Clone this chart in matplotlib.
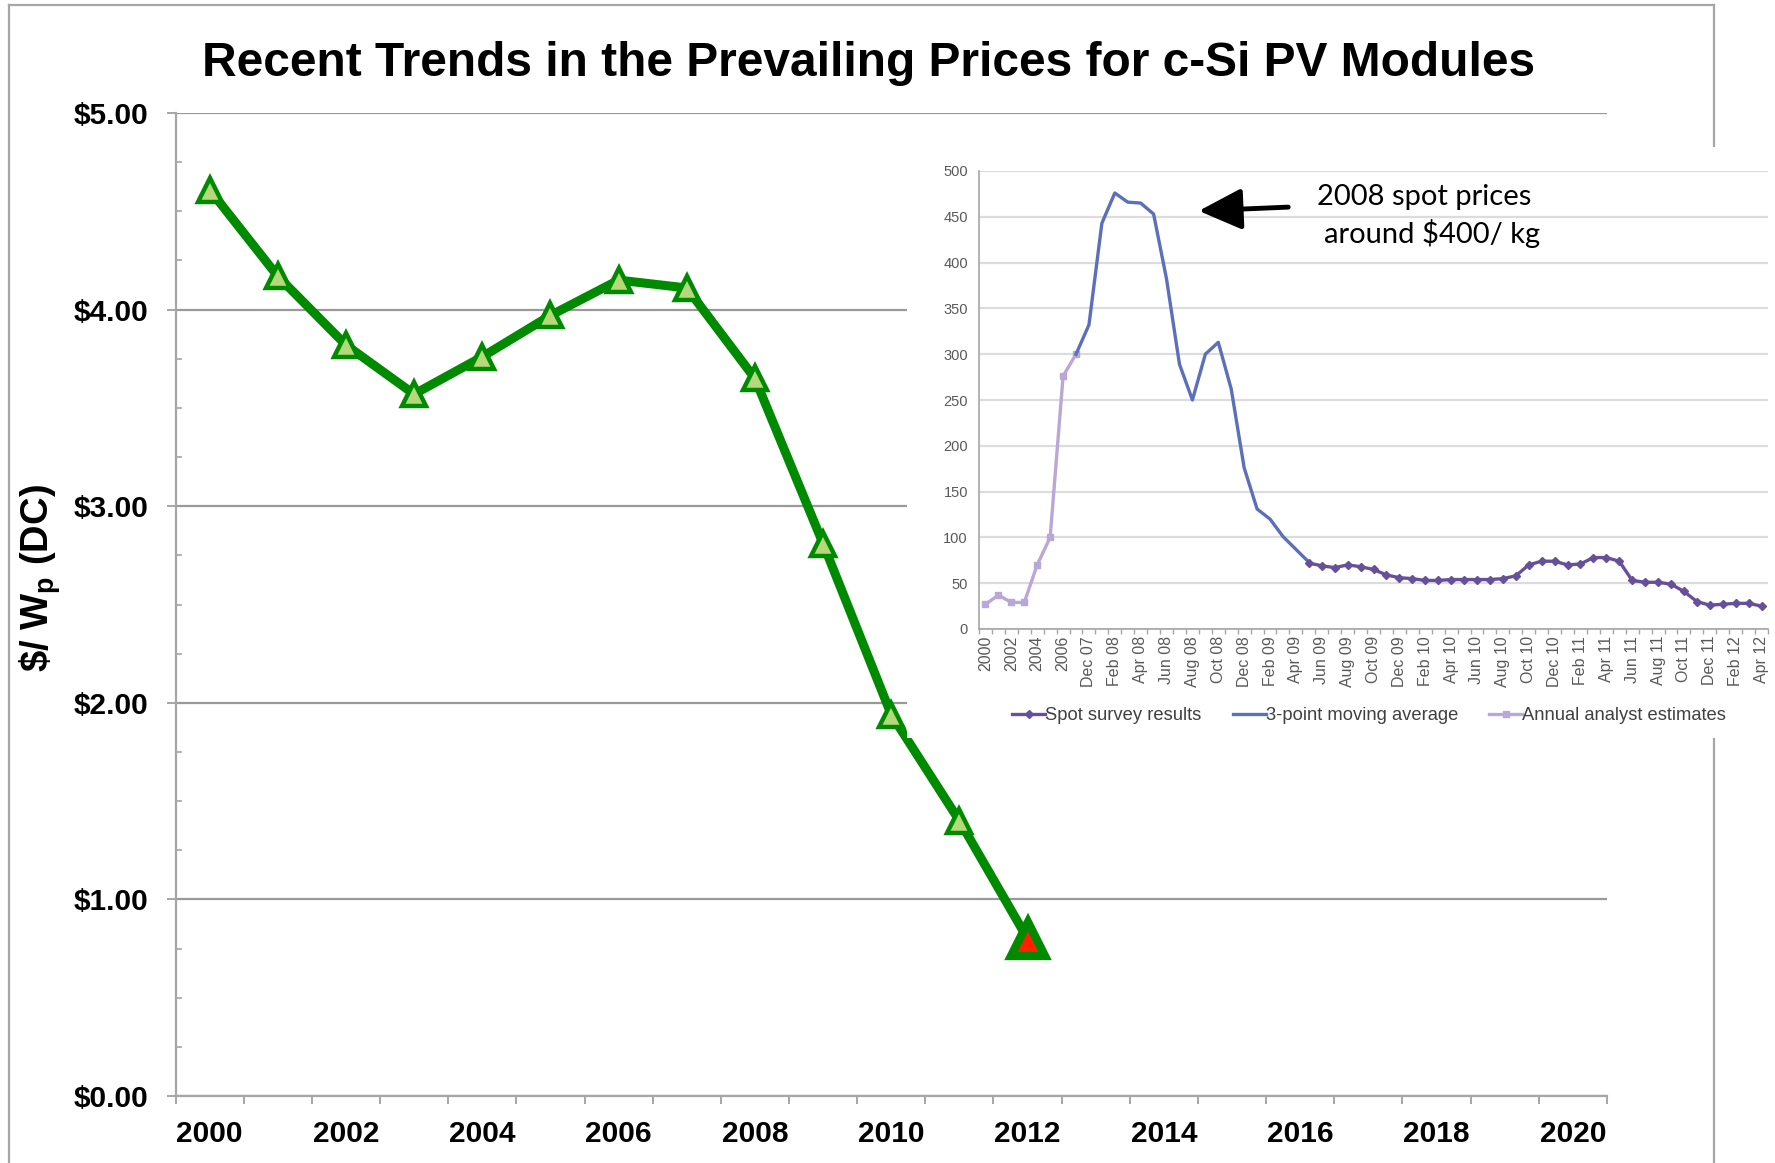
import matplotlib
matplotlib.use("Agg")
import matplotlib.pyplot as plt
from matplotlib.lines import Line2D
import matplotlib.patches as mpatches
import numpy as np

plt.rcParams["mathtext.fontset"] = "custom"
plt.rcParams["mathtext.rm"] = "Liberation Sans"
plt.rcParams["mathtext.bf"] = "Liberation Sans:bold"
plt.rcParams["mathtext.it"] = "Liberation Sans:italic"

# ---------------- data ----------------
main_categories = ["2000", "2001", "2002", "2003", "2004", "2005", "2006", "2007",
                   "2008", "2009", "2010", "2011", "2012", "2013", "2014", "2015",
                   "2016", "2017", "2018", "2019", "2020"]
module_years = ["2000", "2001", "2002", "2003", "2004", "2005", "2006",
                "2007", "2008", "2009", "2010", "2011", "2012"]
module_price = [4.61, 4.17, 3.82, 3.57, 3.76, 3.97, 4.15, 4.11, 3.65, 2.81, 1.94, 1.40, 0.80]
y_ticks_main = [0, 1, 2, 3, 4, 5]
y_ticklabels_main = ["$0.00", "$1.00", "$2.00", "$3.00", "$4.00", "$5.00"]

inset_categories = ["2000", "2001", "2002", "2003", "2004", "2005", "2006", "Nov 07",
                    "Dec 07", "Jan 08", "Feb 08", "Mar 08", "Apr 08", "May 08", "Jun 08",
                    "Jul 08", "Aug 08", "Sep 08", "Oct 08", "Nov 08", "Dec 08",
                    "Jan 09", "Feb 09", "Mar 09", "Apr 09", "May 09", "Jun 09",
                    "Jul 09", "Aug 09", "Sep 09", "Oct 09", "Nov 09", "Dec 09",
                    "Jan 10", "Feb 10", "Mar 10", "Apr 10", "May 10", "Jun 10",
                    "Jul 10", "Aug 10", "Sep 10", "Oct 10", "Nov 10", "Dec 10",
                    "Jan 11", "Feb 11", "Mar 11", "Apr 11", "May 11", "Jun 11",
                    "Jul 11", "Aug 11", "Sep 11", "Oct 11", "Nov 11", "Dec 11",
                    "Jan 12", "Feb 12", "Mar 12", "Apr 12"]
# Annual analyst estimates (categories 2000 .. Nov 07)
analyst_cats = ["2000", "2001", "2002", "2003", "2004", "2005", "2006", "Nov 07"]
analyst_vals = [27, 37, 29, 29, 70, 100, 276, 300]
# 3-point moving average (Nov 07 .. May 09)
mavg_cats = ["Nov 07", "Dec 07", "Jan 08", "Feb 08", "Mar 08", "Apr 08", "May 08",
             "Jun 08", "Jul 08", "Aug 08", "Sep 08", "Oct 08", "Nov 08", "Dec 08",
             "Jan 09", "Feb 09", "Mar 09", "Apr 09", "May 09"]
mavg_vals = [300, 332, 443, 476, 466, 465, 453, 382, 289, 250, 300, 313, 262, 176,
             131, 120, 101, 87, 73]
# Spot survey results (May 09 .. Apr 12)
spot_cats = ["May 09", "Jun 09", "Jul 09", "Aug 09", "Sep 09", "Oct 09", "Nov 09",
             "Dec 09", "Jan 10", "Feb 10", "Mar 10", "Apr 10", "May 10", "Jun 10",
             "Jul 10", "Aug 10", "Sep 10", "Oct 10", "Nov 10", "Dec 10", "Jan 11",
             "Feb 11", "Mar 11", "Apr 11", "May 11", "Jun 11", "Jul 11", "Aug 11",
             "Sep 11", "Oct 11", "Nov 11", "Dec 11", "Jan 12", "Feb 12", "Mar 12",
             "Apr 12"]
spot_vals = [72, 69, 67, 70, 68, 65, 59, 56, 55, 53, 53, 54, 54, 54, 54, 55, 58,
             70, 74, 74, 70, 71, 78, 78, 74, 53, 51, 51, 49, 41, 30, 26, 27, 28,
             28, 25]
inset_yticks = [0, 50, 100, 150, 200, 250, 300, 350, 400, 450, 500]

# ---------------- figure ----------------
W, H = 1775, 1163
fig = plt.figure(figsize=(W / 100, H / 100), dpi=100)
fig.patch.set_facecolor("white")

def fx(px):
    return px / W

def fy(py):
    return 1 - py / H

# outer frame
frame_kw = dict(color="#a6a6a6", lw=1.6, zorder=0.5)
fig.add_artist(Line2D([fx(9), fx(9)], [0, fy(5)], transform=fig.transFigure, **frame_kw))
fig.add_artist(Line2D([fx(9), fx(1714)], [fy(5), fy(5)], transform=fig.transFigure, **frame_kw))
fig.add_artist(Line2D([fx(1714), fx(1714)], [fy(5), 0], transform=fig.transFigure, **frame_kw))

# ---------------- main axes ----------------
ax = fig.add_axes([fx(175.5), fy(1096), fx(1607) - fx(175.5), fy(113) - fy(1096)])
ax.set_zorder(1)
ax.set_facecolor("none")
xi = [main_categories.index(c) for c in module_years]
ax.plot(xi, module_price, color="#008a00", lw=6.5, solid_joinstyle="round", zorder=3)
ax.plot(xi[:-1], module_price[:-1], ls="none", marker="^", ms=17, mfc="#b5d97a",
        mec="#008a00", mew=3.2, zorder=4)
ax.plot(xi[-1:], module_price[-1:], ls="none", marker="^", ms=24, mfc="#ff2200",
        mec="#008a00", mew=6, zorder=5)

ax.set_xlim(-0.5, len(main_categories) - 0.5)
ax.set_ylim(0, 5)
ax.set_yticks(y_ticks_main)
ax.set_yticklabels(y_ticklabels_main)
ax.set_yticks(np.arange(0, 5.01, 0.25), minor=True)
ax.set_xticks(np.arange(0, len(main_categories), 2))
ax.set_xticklabels(main_categories[::2])
ax.set_xticks(np.arange(-0.5, len(main_categories), 1), minor=True)
ax.tick_params(axis="y", which="major", direction="out", length=6.5, width=1.4,
               color="#a6a6a6", pad=13)
ax.tick_params(axis="y", which="minor", direction="in", length=4.5, width=1.2,
               color="#a6a6a6")
ax.tick_params(axis="x", which="major", length=0, pad=17)
ax.tick_params(axis="x", which="minor", direction="out", length=6, width=1.4,
               color="#a6a6a6")
for lab in ax.get_yticklabels() + ax.get_xticklabels():
    lab.set_fontfamily("Liberation Sans")
    lab.set_fontweight("bold")
    lab.set_fontsize(21.5)
ax.yaxis.grid(True, which="major", color="#999999", lw=1.6)
ax.set_axisbelow(True)
for s in ["top", "right"]:
    ax.spines[s].set_visible(False)
for s in ["left", "bottom"]:
    ax.spines[s].set_color("#a6a6a6")
    ax.spines[s].set_linewidth(1.6)

fig.text(fx(869), fy(63), "Recent Trends in the Prevailing Prices for c-Si PV Modules",
         ha="center", va="center", fontsize=34.5, fontweight="bold",
         family="Liberation Sans")
fig.text(fx(40), fy(578), r"\$/ W$_\mathbf{p}$ (DC)", rotation=90, ha="center",
         va="center", fontsize=27.5, fontweight="bold", family="Liberation Sans")

# ---------------- inset (white box + chart) ----------------
box = fig.add_axes([fx(907), fy(738), 1 - fx(907), fy(147) - fy(738)])
box.set_zorder(2)
box.set_facecolor("white")
box.set_xticks([])
box.set_yticks([])
for s in box.spines.values():
    s.set_visible(False)

ins = fig.add_axes([fx(979), fy(629), fx(1768) - fx(979), fy(171) - fy(629)])
ins.set_zorder(3)
ins.set_facecolor("none")
c_spot = "#67509a"
c_mavg = "#5b6fbb"
c_ann = "#b9a7d8"
ins.plot([inset_categories.index(c) for c in analyst_cats], analyst_vals, color=c_ann,
         lw=2.4, marker="s", ms=5, label="Annual analyst estimates", zorder=3)
ins.plot([inset_categories.index(c) for c in mavg_cats], mavg_vals, color=c_mavg,
         lw=2.4, label="3-point moving average", zorder=3)
ins.plot([inset_categories.index(c) for c in spot_cats], spot_vals, color=c_spot,
         lw=2.4, marker="D", ms=4, label="Spot survey results", zorder=4)
ins.set_xlim(-0.45, len(inset_categories) - 0.55)
ins.set_ylim(0, 500)
ins.set_yticks(inset_yticks)
ins.set_yticklabels([str(v) for v in inset_yticks])
ins.set_xticks(np.arange(0, len(inset_categories), 2))
ins.set_xticklabels(inset_categories[::2], rotation=90)
ins.set_xticks(np.arange(-0.5, len(inset_categories), 1), minor=True)
ins.tick_params(axis="y", length=0, pad=8, labelsize=10.5, labelcolor="#595959")
ins.tick_params(axis="x", which="major", length=0, pad=5, labelsize=11.5,
                labelcolor="#595959")
ins.tick_params(axis="x", which="minor", direction="out", length=3.5, width=1,
                color="#a6a6a6")
for lab in ins.get_xticklabels() + ins.get_yticklabels():
    lab.set_fontfamily("Liberation Sans")
ins.yaxis.grid(True, color="#dcdcdc", lw=1.6)
ins.set_axisbelow(True)
for s in ["top", "right"]:
    ins.spines[s].set_visible(False)
for s in ["left", "bottom"]:
    ins.spines[s].set_color("#a6a6a6")
    ins.spines[s].set_linewidth(1.2)

handles, labels = ins.get_legend_handles_labels()
order = [2, 1, 0]
leg = fig.legend([handles[i] for i in order], [labels[i] for i in order],
                 loc="center", bbox_to_anchor=(fx(1369), fy(716)), ncol=3,
                 frameon=False, handlelength=1.8, handletextpad=0.0,
                 columnspacing=1.7, prop={"family": "Liberation Sans", "size": 13.2})
leg.set_zorder(4)
for t in leg.get_texts():
    t.set_color("#404040")

# annotation
fig.text(fx(1424), fy(197), "2008 spot prices", ha="center", va="center",
         fontsize=21, family="Lato", zorder=5)
fig.text(fx(1432), fy(233), "around $400/ kg", ha="center", va="center",
         fontsize=21, family="Lato", zorder=5)
fig.add_artist(mpatches.FancyArrowPatch(
    (fx(1291), fy(207)), (fx(1196), fy(211)), transform=fig.transFigure,
    arrowstyle="-|>,head_length=1.15,head_width=0.55", mutation_scale=23,
    lw=3.5, color="black", zorder=5))

fig.savefig("out.png", dpi=100)
